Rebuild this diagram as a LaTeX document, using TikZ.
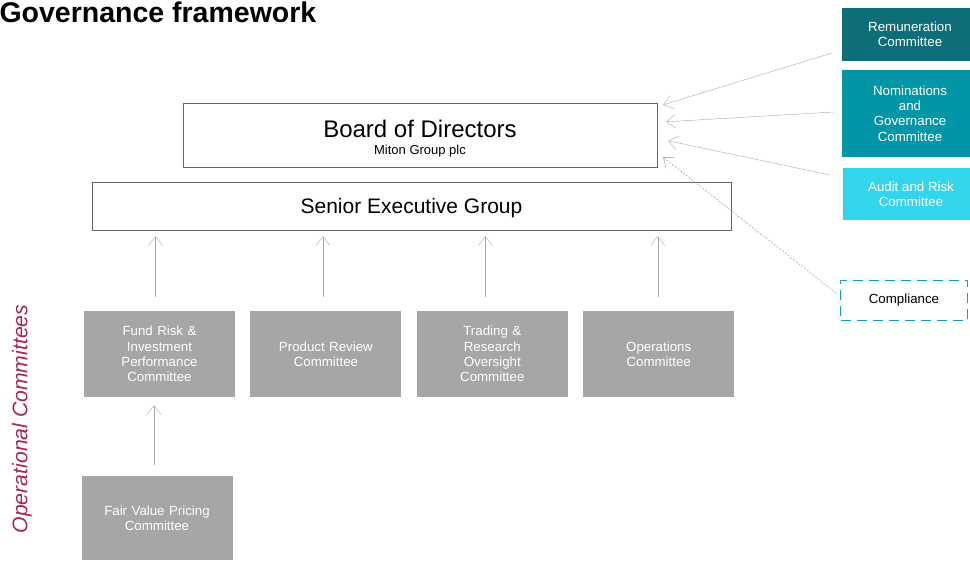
\documentclass[tikz,border=0pt]{standalone}
\usepackage{fontspec}
\setmainfont{Liberation Sans}
\usetikzlibrary{arrows.meta,positioning}
\definecolor{GovTealDark}{HTML}{0D6E78}
\definecolor{GovTeal}{HTML}{0096A8}
\definecolor{GovTealLight}{HTML}{33D5EC}
\definecolor{GovDash}{HTML}{1A9FB0}
\definecolor{GovGrey}{HTML}{A6A6A6}
\definecolor{GovLine}{HTML}{A8A8A8}
\definecolor{GovRose}{HTML}{A8265A}

\begin{document}
\begin{tikzpicture}[x=1pt, y=-1pt, node distance=15pt,
   head/.style={draw=black!60, fill=white, inner sep=0pt},
   board/.style={fill=#1, text=white, minimum width=136pt, align=center,
                 inner sep=2pt, font=\fontsize{13.3}{15.3}\selectfont},
   opc/.style={fill=GovGrey, text=white, minimum width=151pt,
               minimum height=86pt, text width=130pt, align=center,
               font=\fontsize{13.3}{15.3}\selectfont},
   arr/.style={draw=GovLine, -{Straight Barb[length=9pt,width=14pt]}}]
  \clip (0,0) rectangle (970,561);

  \node[anchor=base west, font=\fontsize{28.5}{30}\selectfont\bfseries]
    (title) at (-4,23) {Governance framework};

  % top of the structure
  \node[head, minimum width=474pt, minimum height=64pt] (bod) at (420,135) {};
  \node[font=\fontsize{24}{26}\selectfont] (bodname) at (420,129) {Board of Directors};
  \node[font=\fontsize{13}{15}\selectfont] (bodsub) at (420,151) {Miton Group plc};
  \node[head, minimum width=639pt, minimum height=48pt] (seg) at (411.5,206) {};
  \node[font=\fontsize{21}{24}\selectfont] (segname) at (411.5,208) {Senior Executive Group};

  % board committees on the right
  \node[board=GovTealDark, minimum height=53pt] (rem) at (910,34.5) {Remuneration\\Committee};
  \node[board=GovTeal, minimum height=87pt] (nom) at (910,113.5) {Nominations\\and\\Governance\\Committee};
  \node[board=GovTealLight, minimum height=52pt] (aud) at (911,194) {Audit and Risk\\Committee};
  \node[draw=GovDash, line width=1.6pt, dash pattern=on 10pt off 6pt,
        minimum width=127pt, minimum height=40pt,
        font=\fontsize{13.3}{15}\selectfont] (comp) at (904,300.5) {Compliance};

  % operational committees
  \node[opc] (frc) at (159.5,354) {Fund Risk \&\\Investment\\Performance\\Committee};
  \node[opc, right=of frc] (prc) {Product Review\\Committee};
  \node[opc, right=of prc] (troc) {Trading \&\\Research\\Oversight\\Committee};
  \node[opc, right=of troc] (opsc) {Operations\\Committee};
  \node[opc, minimum height=84pt] (fvpc) at (157,518) {Fair Value Pricing\\Committee};

  \node[rotate=90, text=GovRose, font=\fontsize{21.2}{24}\selectfont\itshape]
    (opslabel) at (22,419) {Operational Committees};

  % reporting lines up to the executive group
  \foreach \c/\dx in {frc/-4,prc/-3,troc/-7,opsc/-1}
    \draw[arr, shorten <=14pt, shorten >=6pt]
      ([xshift=\dx pt]\c.north) -- ([xshift=\dx pt]\c.north |- seg.south);
  \draw[arr, shorten <=11pt, shorten >=8pt]
    ([xshift=-3pt]fvpc.north) -- ([xshift=-3pt]fvpc.north |- frc.south);

  % committees reporting to the board
  \coordinate (remout) at (832,53);
  \coordinate (nomout) at (834,112);
  \coordinate (audout) at (830,175);
  \coordinate (compout) at (836,293);
  \draw[arr] (remout) -- ([xshift=6pt, yshift=-2pt]bod.north east);
  \draw[arr] (nomout) -- ([xshift=9pt, yshift=-19pt]bod.north east);
  \draw[arr] (audout) -- ([xshift=11pt, yshift=-38pt]bod.north east);
  \draw[arr, draw=black!45, dash pattern=on 2pt off 1.5pt]
    (compout) -- ([xshift=6pt, yshift=10pt]bod.south east);
\end{tikzpicture}
\end{document}
